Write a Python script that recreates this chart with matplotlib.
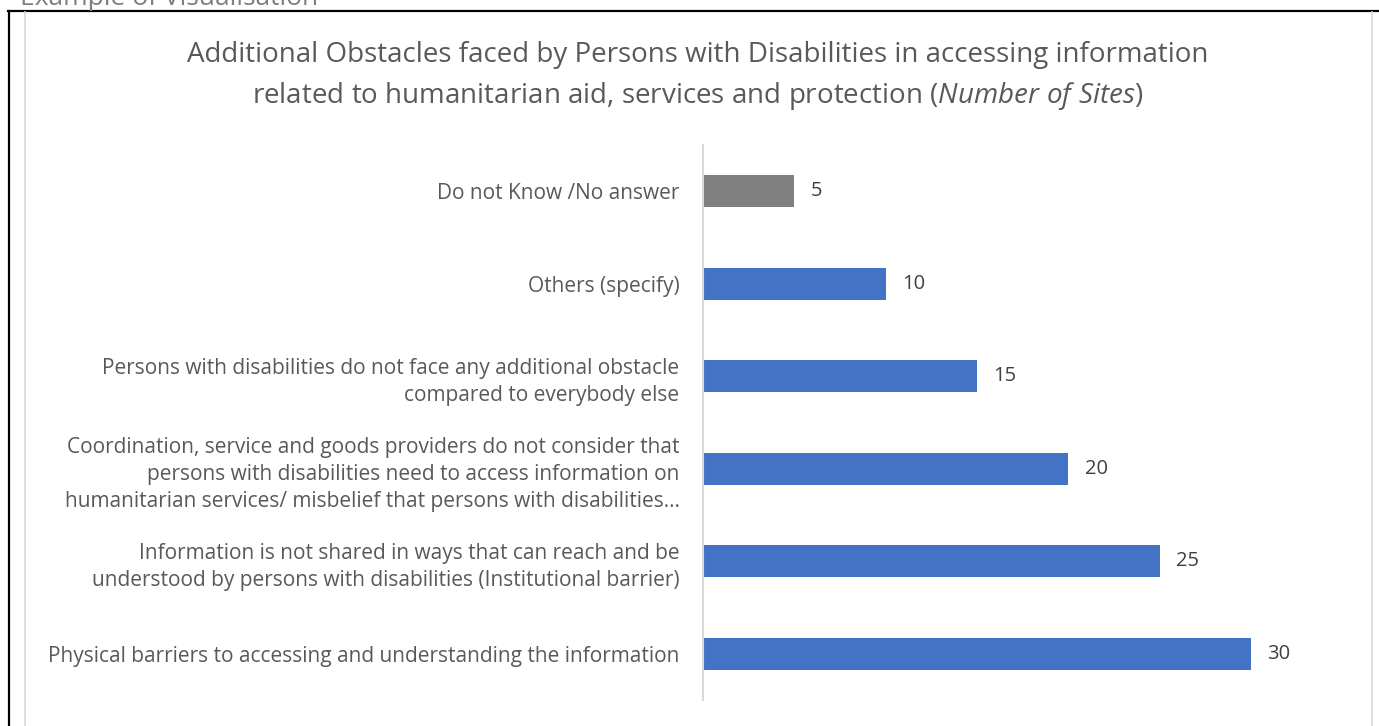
import matplotlib.pyplot as plt
from matplotlib.lines import Line2D

plt.rcParams['font.family'] = ['Open Sans', 'DejaVu Sans']
plt.rcParams['mathtext.fontset'] = 'custom'
plt.rcParams['mathtext.rm'] = 'Open Sans'
plt.rcParams['mathtext.it'] = 'Open Sans:italic'

# obstacle categories, bottom to top
categories = [
    "Physical barriers to accessing and understanding the information",
    "Information is not shared in ways that can reach and be\nunderstood by persons with disabilities (Institutional barrier)",
    "Coordination, service and goods providers do not consider that\npersons with disabilities need to access information on\nhumanitarian services/ misbelief that persons with disabilities…",
    "Persons with disabilities do not face any additional obstacle\ncompared to everybody else",
    "Others (specify)",
    "Do not Know /No answer",
]
sites = [30, 25, 20, 15, 10, 5]
bar_colors = ["#4472C4", "#4472C4", "#4472C4", "#4472C4", "#4472C4", "#808080"]

W, H = 1379, 726
fig = plt.figure(figsize=(W / 100, H / 100), dpi=100)

# plot area: spine at x=703, bars from y=145 to y=700
x0, y0 = 703, 145
unit = (1251 - 703) / 30
xmax = 36
ax = fig.add_axes([x0 / W, (H - 700) / H, xmax * unit / W, (700 - y0) / H])

ax.barh(range(len(sites)), sites, height=0.35, color=bar_colors)
ax.set_ylim(-0.5, len(sites) - 0.5)
ax.set_xlim(0, xmax)

for i, v in enumerate(sites):
    ax.text(v + 0.9, i, str(v), va="center", ha="left", fontsize=14.5, color="#404040")

ax.set_yticks(range(len(sites)))
ax.set_yticklabels(categories, fontsize=15, color="#595959", linespacing=1.4)
ax.tick_params(axis="y", length=0, pad=17)
ax.set_xticks([])
for side in ["top", "right", "bottom"]:
    ax.spines[side].set_visible(False)
ax.spines["left"].set_color("#D9D9D9")
ax.spines["left"].set_linewidth(1.5)

fig.text(698 / W, 1 - 55 / H,
         "Additional Obstacles faced by Persons with Disabilities in accessing information",
         ha="center", va="center", fontsize=20, color="#595959")
fig.text(698 / W, 1 - 96 / H,
         r"related to humanitarian aid, services and protection ($\it{Number\ of\ Sites)}$",
         ha="center", va="center", fontsize=20, color="#595959")

# frame lines around the chart
fig.add_artist(Line2D([8 / W, 1], [1 - 11 / H, 1 - 11 / H], color="black", lw=1.6))
fig.add_artist(Line2D([9 / W, 9 / W], [0, 1 - 11 / H], color="black", lw=1.6))
fig.add_artist(Line2D([25 / W, 25 / W], [0, 1 - 12 / H], color="#D9D9D9", lw=1.2))
fig.add_artist(Line2D([1372 / W, 1372 / W], [0, 1 - 12 / H], color="#D9D9D9", lw=1.2))
fig.text(20 / W, 1 + 2 / H, "Example of Visualisation", ha="left", va="center",
         fontsize=19, color="#7F7F7F")

fig.savefig("out.png", dpi=100)
